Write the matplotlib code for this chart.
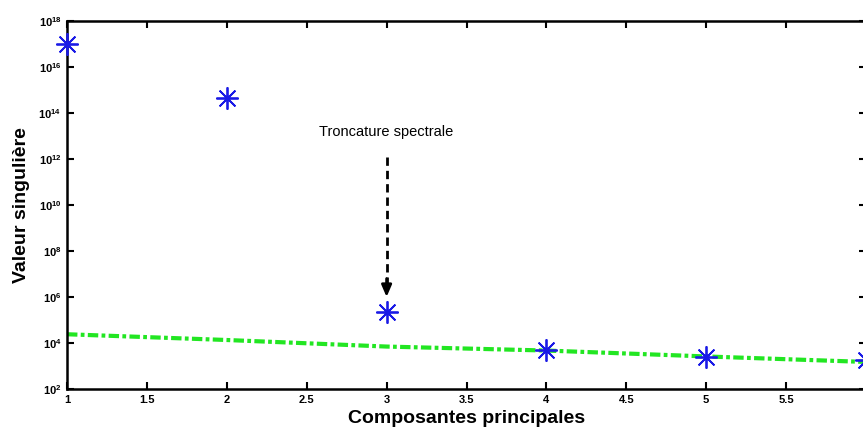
import numpy as np
import matplotlib
matplotlib.use("Agg")
import matplotlib.pyplot as plt

plt.rcParams['font.family'] = ['Liberation Sans', 'DejaVu Sans']
plt.rcParams['mathtext.fontset'] = 'custom'
plt.rcParams['mathtext.rm'] = 'Liberation Sans:bold'
plt.rcParams['mathtext.bf'] = 'Liberation Sans:bold'

## composantes principales et valeurs singulieres
comp = [1, 2, 3, 4, 5, 6]
sing_vals = [1.0e17, 4.4e14, 2.3e5, 5.0e3, 2.5e3, 1.8e3]
## seuil de bruit (ligne verte)
seuil = [2.4e4, 1.35e4, 7.0e3, 4.7e3, 2.6e3, 1.5e3]

xticks = [1, 1.5, 2, 2.5, 3, 3.5, 4, 4.5, 5, 5.5, 6]
xticklabels = ['1', '1.5', '2', '2.5', '3', '3.5', '4', '4.5', '5', '5.5', '6']
yexp = [2, 4, 6, 8, 10, 12, 14, 16, 18]

## fleche de troncature
arrow_x = 3
arrow_top = 10**12.1
arrow_tip = 10**6.0
label_y = 10**13.17

fig = plt.figure(figsize=(8.63, 4.32), dpi=100)
ax = fig.add_axes([67/863, 43/432, 799/863, 368/432])

ax.plot(comp, seuil, color='#22e622', lw=3.0,
        linestyle=(0, (2.5, 0.8, 0.9, 0.8)), dash_capstyle='butt', zorder=2)
ax.plot(comp, sing_vals, linestyle='none', marker=(8, 2, 0), markersize=16,
        markeredgewidth=1.3, color='#1a1ae6', zorder=3, clip_on=False)

## fleche pointillee
ax.plot([arrow_x, arrow_x], [arrow_top, 10**6.55], color='k', lw=2.0,
        linestyle=(0, (3.0, 1.8)), zorder=4)
ax.annotate('', xy=(arrow_x, arrow_tip), xytext=(arrow_x, 10**6.8),
            arrowprops=dict(arrowstyle='-|>,head_length=0.7,head_width=0.3',
                            color='k', lw=2.0, shrinkA=0, shrinkB=0))
ax.text(arrow_x, label_y, 'Troncature spectrale', ha='center', va='center',
        fontsize=10.5)

ax.set_yscale('log')
ax.set_xlim(1, 6)
ax.set_ylim(1e2, 1e18)
ax.set_xticks(xticks)
ax.set_xticklabels(xticklabels, fontsize=8, fontweight='bold')
ax.set_yticks([10.0**e for e in yexp])
ax.set_yticklabels([r'$10^{%d}$' % e for e in yexp], fontsize=8)
ax.minorticks_off()
ax.tick_params(direction='in', length=5, width=1.5, top=True, right=True, pad=4)

for sp in ax.spines.values():
    sp.set_linewidth(1.8)

ax.set_xlabel('Composantes principales', fontsize=14, fontweight='bold', labelpad=4)
ax.set_ylabel('Valeur singulière', fontsize=14, fontweight='bold', labelpad=6)

fig.savefig('out.png', dpi=100)
